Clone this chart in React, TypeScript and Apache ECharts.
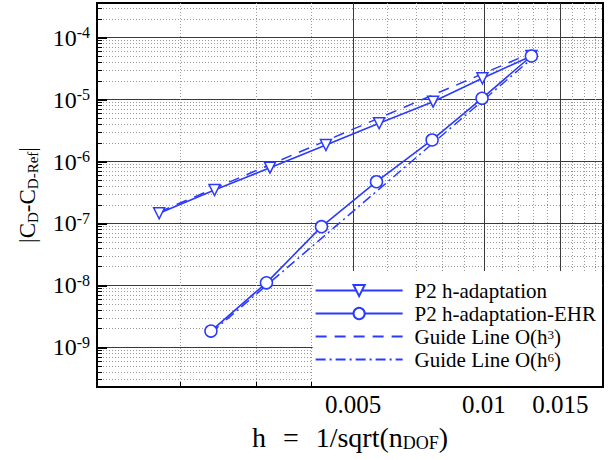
import React, { useEffect, useRef } from 'react';
import * as echarts from 'echarts';

// ---- data ----
const hAdapt = [0.00179, 0.0024, 0.00322, 0.00433, 0.00574, 0.00764, 0.00992, 0.01286];
const errAdapt = [1.46e-7, 3.47e-7, 7.96e-7, 1.85e-6, 4.15e-6, 9.25e-6, 2.21e-5, 5.06e-5];
const hEHR = [0.002355, 0.00316, 0.00423, 0.00566, 0.0076, 0.0099, 0.01286];
const errEHR = [1.83e-9, 1.1e-8, 8.87e-8, 4.72e-7, 2.23e-6, 1.05e-5, 5.06e-5];
const hGuide3 = [0.00179, 0.01286];
const errGuide3 = [1.53e-7, 5.67e-5];
const hGuide6 = [0.002355, 0.01286];
const errGuide6 = [1.71e-9, 4.53e-5];

const seriesNames = ['P2 h-adaptation', 'P2 h-adaptation-EHR', 'Guide Line O(h³)', 'Guide Line O(h⁶)'];
const guideOrders = [3, 6];

const xRange = [0.001288, 0.01879];
const yRange = [2.286e-10, 3.63e-4];
const xMajorTicks = [0.005, 0.01, 0.015];
const xMinorTicks = [0.002, 0.003, 0.004, 0.006, 0.007, 0.008, 0.009, 0.011, 0.012, 0.013, 0.014, 0.016, 0.017, 0.018];
const yDecadeExponents = [-9, -8, -7, -6, -5, -4];
const yMinorExponents = [-10, -9, -8, -7, -6, -5, -4];
const minorMantissas = [2, 3, 4, 5, 6, 7, 8, 9];

const FONT = "'Liberation Serif', 'Times New Roman', serif";
const BLUE = '#2b3aff';
const L = (v: number) => Math.log10(v);

export default function App() {
  const ref = useRef<HTMLDivElement>(null);
  useEffect(() => {
    const chart = echarts.init(ref.current!, null, { renderer: 'svg' });

    const xMin = L(xRange[0]);
    const xMax = L(xRange[1]);
    const yMin = L(yRange[0]);
    const yMax = L(yRange[1]);
    const xMajorLog = xMajorTicks.map(L);
    const xMinorLog = xMinorTicks.map(L);
    const yMajorLog = yDecadeExponents.slice();
    const yMinorLog: number[] = [];
    yMinorExponents.forEach((e) =>
      minorMantissas.forEach((k) => {
        const v = L(k) + e;
        if (v > yMin && v < yMax) yMinorLog.push(v);
      })
    );

    const pts = (xs: number[], ys: number[]) => xs.map((x, i) => [L(x), L(ys[i])]);

    const minorSplit = { show: true, lineStyle: { color: '#9a9a9a', width: 1, type: [1, 2] } };
    const majorSplit = { show: true, lineStyle: { color: '#3a3a3a', width: 1 } };

    const option: any = {
      animation: false,
      backgroundColor: '#fff',
      textStyle: { fontFamily: FONT },
      grid: {
        left: 97,
        right: 5,
        top: 3,
        bottom: 73,
        show: true,
        borderColor: '#000',
        borderWidth: 2,
        backgroundColor: 'transparent',
        containLabel: false,
        outerBoundsMode: 'none',
      },
      xAxis: [
        {
          type: 'value',
          min: xMin,
          max: xMax,
          position: 'bottom',
          axisLine: { show: true, onZero: false, lineStyle: { color: '#000', width: 2 } },
          axisTick: { show: true, inside: true, length: 10, customValues: xMajorLog, lineStyle: { color: '#000', width: 2 } },
          axisLabel: {
            show: true,
            customValues: xMajorLog,
            margin: 5,
            color: '#000',
            fontFamily: FONT,
            fontSize: 25,
            formatter: (v: number) => String(parseFloat(Math.pow(10, v).toPrecision(2))),
          },
          splitLine: majorSplit,
          name: '{n|h }{q|=}{n| 1/sqrt(n}{s|DOF}{n|)}',
          nameLocation: 'middle',
          nameGap: 35,
          nameTextStyle: {
            fontFamily: FONT,
            rich: {
              n: { fontFamily: FONT, fontSize: 28, color: '#000', lineHeight: 30 },
              q: { fontFamily: FONT, fontSize: 28, color: '#000', lineHeight: 30, padding: [0, 10, 0, 10] },
              s: { fontFamily: FONT, fontSize: 18, color: '#000', lineHeight: 12, verticalAlign: 'bottom' },
            },
          },
        },
        {
          type: 'value',
          min: xMin,
          max: xMax,
          position: 'bottom',
          axisLine: { show: false },
          axisTick: { show: true, inside: true, length: 5, customValues: xMinorLog, lineStyle: { color: '#000', width: 1 } },
          axisLabel: { show: false },
          splitLine: minorSplit,
        },
      ],
      yAxis: [
        {
          type: 'value',
          min: yMin,
          max: yMax,
          position: 'left',
          axisLine: { show: true, onZero: false, lineStyle: { color: '#000', width: 2 } },
          axisTick: { show: true, inside: true, length: 10, customValues: yMajorLog, lineStyle: { color: '#000', width: 2 } },
          axisLabel: {
            show: true,
            customValues: yMajorLog,
            margin: 7,
            fontFamily: FONT,
            formatter: (v: number) => `{b|10}{e|${Math.round(v)}}`,
            rich: {
              b: { fontFamily: FONT, fontSize: 24, color: '#000', lineHeight: 26 },
              e: { fontFamily: FONT, fontSize: 16, color: '#000', lineHeight: 14, verticalAlign: 'top' },
            },
          },
          splitLine: majorSplit,
          name: '{n||C}{s|D}{n|-C}{s|D-Ref}{n||}',
          nameLocation: 'middle',
          nameGap: 57,
          nameTextStyle: {
            fontFamily: FONT,
            rich: {
              n: { fontFamily: FONT, fontSize: 23, color: '#000', lineHeight: 26 },
              s: { fontFamily: FONT, fontSize: 15, color: '#000', lineHeight: 10, verticalAlign: 'bottom' },
            },
          },
        },
        {
          type: 'value',
          min: yMin,
          max: yMax,
          position: 'left',
          axisLine: { show: false },
          axisTick: { show: true, inside: true, length: 5, customValues: yMinorLog, lineStyle: { color: '#000', width: 1 } },
          axisLabel: { show: false },
          splitLine: minorSplit,
        },
      ],
      legend: {
        orient: 'vertical',
        right: 6,
        bottom: 74,
        backgroundColor: '#fff',
        padding: [9, 6, 16, 2],
        itemWidth: 87,
        itemHeight: 14,
        itemGap: 2,
        data: [
          { name: seriesNames[0] },
          { name: seriesNames[1] },
          { name: seriesNames[2], itemStyle: { color: 'rgba(0,0,0,0)', borderColor: 'rgba(0,0,0,0)', borderWidth: 0 } },
          { name: seriesNames[3], itemStyle: { color: 'rgba(0,0,0,0)', borderColor: 'rgba(0,0,0,0)', borderWidth: 0 } },
        ],
        formatter: (name: string) => {
          const gi = seriesNames.indexOf(name) - 2;
          if (gi >= 0) return `{n|Guide Line O(h}{e|${guideOrders[gi]}}{n|)}`;
          return `{n|${name}}`;
        },
        textStyle: {
          color: '#000',
          fontFamily: FONT,
          fontSize: 21,
          lineHeight: 18,
          padding: [0, 0, 0, 7],
          rich: {
            n: { fontFamily: FONT, fontSize: 21, color: '#000', lineHeight: 18 },
            e: { fontFamily: FONT, fontSize: 13, color: '#000', lineHeight: 10, verticalAlign: 'top' },
          },
        },
      },
      series: [
        {
          name: seriesNames[2],
          type: 'line',
          xAxisIndex: 0,
          yAxisIndex: 0,
          data: pts(hGuide3, errGuide3),
          symbol: 'none',
          lineStyle: { color: BLUE, width: 1.5, type: [11, 8] },
          itemStyle: { color: BLUE },
          z: 2,
        },
        {
          name: seriesNames[3],
          type: 'line',
          xAxisIndex: 0,
          yAxisIndex: 0,
          data: pts(hGuide6, errGuide6),
          symbol: 'none',
          lineStyle: { color: BLUE, width: 1.5, type: [10, 4, 2, 4] },
          itemStyle: { color: BLUE },
          z: 2,
        },
        {
          name: seriesNames[0],
          type: 'line',
          xAxisIndex: 0,
          yAxisIndex: 0,
          data: pts(hAdapt, errAdapt),
          symbol: 'triangle',
          symbolRotate: 180,
          symbolSize: 11,
          lineStyle: { color: BLUE, width: 1.6 },
          itemStyle: { color: '#fff', borderColor: BLUE, borderWidth: 1.5 },
          z: 3,
        },
        {
          name: seriesNames[1],
          type: 'line',
          xAxisIndex: 0,
          yAxisIndex: 0,
          data: pts(hEHR, errEHR),
          symbol: 'circle',
          symbolSize: 12,
          lineStyle: { color: BLUE, width: 1.6 },
          itemStyle: { color: '#fff', borderColor: BLUE, borderWidth: 1.5 },
          z: 4,
        },
      ],
    };

    chart.setOption(option);
    return () => chart.dispose();
  }, []);

  return (
    <div
      ref={ref}
      style={{ position: 'fixed', left: 0, top: 0, width: 608, height: 460, background: '#fff' }}
    />
  );
}
